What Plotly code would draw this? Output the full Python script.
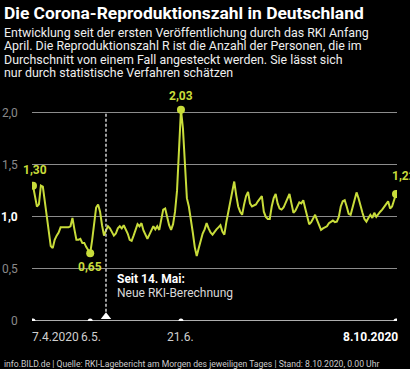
import plotly.graph_objects as go
import pandas as pd

start_date = "2020-04-07"
r_values = [
    1.30, 1.20, 1.10, 1.12, 1.30, 1.29, 1.15, 1.00, 0.85, 0.72,
    0.70, 0.78, 0.82, 0.85, 0.90, 0.90, 0.90, 0.90, 0.90, 0.91,
    0.99, 0.88, 0.78, 0.78, 0.79, 0.75, 0.75, 0.71, 0.68, 0.65,
    0.78, 0.95, 1.09, 1.12, 1.05, 0.92, 0.82, 0.87, 0.91, 0.89,
    0.86, 0.82, 0.84, 0.89, 0.91, 0.89, 0.92, 0.88, 0.84, 0.78,
    0.77, 0.82, 0.88, 0.93, 0.91, 0.94, 0.87, 0.82, 0.79, 0.83,
    0.87, 0.91, 0.88, 0.91, 0.875, 0.97, 1.07, 1.08, 0.99, 0.92,
    0.875, 0.93, 1.05, 1.25, 1.64, 2.03, 1.85, 1.55, 1.18, 1.10,
    0.95, 0.85, 0.71, 0.625, 0.70, 0.78, 0.84, 0.88, 0.94, 0.89,
    0.85, 0.83, 0.86, 0.88, 0.90, 0.92, 0.86, 0.83, 0.95, 1.05,
    1.15, 1.22, 1.34, 1.21, 1.10, 1.05, 1.02, 1.12, 1.20, 1.24,
    1.13, 1.10, 1.11, 1.12, 1.15, 1.18, 1.20, 1.05, 1.00, 0.98,
    0.98, 1.10, 1.18, 1.22, 1.13, 1.08, 1.07, 1.09, 1.13, 1.18,
    1.22, 1.13, 1.04, 1.06, 1.10, 1.14, 1.13, 1.16, 1.08, 1.00,
    0.93, 0.95, 0.98, 1.02, 0.97, 0.92, 0.875, 0.89, 0.90, 0.91,
    0.94, 0.955, 0.965, 0.95, 0.955, 1.00, 1.10, 1.15, 1.16, 1.10,
    1.03, 1.02, 1.10, 1.18, 1.235, 1.18, 1.10, 1.04, 0.98, 0.955,
    0.99, 1.02, 0.99, 1.04, 1.00, 1.03, 1.05, 1.07, 1.10, 1.13,
    1.15, 1.08, 1.10, 1.16, 1.22,
]
dates = pd.date_range(start_date, periods=len(r_values), freq="D")

# highlighted points
hl_dates = ["2020-04-07", "2020-05-06", "2020-06-21", "2020-10-08"]
hl_values = [1.30, 0.65, 2.03, 1.22]
hl_labels = ["1,30", "0,65", "2,03", "1,22"]

# x axis ticks
xtick_dates = ["2020-04-07", "2020-05-06", "2020-06-21", "2020-10-08"]
xtick_labels = ["7.4.2020", "6.5.", "21.6.", "8.10.2020"]

# y axis ticks
ytick_vals = [0, 0.5, 1.0, 1.5, 2.0]
ytick_labels = ["0", "0,5", "1,0", "1,5", "2,0"]

change_date = "2020-05-14"

LINE = "#c8dc3a"
FONT = "Roboto"

fig = go.Figure()

# axis baseline with tick dots
fig.add_trace(go.Scatter(
    x=xtick_dates, y=[0] * len(xtick_dates), mode="lines+markers",
    line=dict(color="#e8e8e8", width=1.5),
    marker=dict(color="#ffffff", size=5), hoverinfo="skip", showlegend=False,
))

fig.add_trace(go.Scatter(
    x=dates, y=r_values, mode="lines",
    line=dict(color=LINE, width=2), showlegend=False,
))
fig.add_trace(go.Scatter(
    x=hl_dates, y=hl_values, mode="markers",
    marker=dict(color=LINE, size=8), showlegend=False,
))
fig.add_trace(go.Scatter(
    x=[change_date], y=[0.04], mode="markers",
    marker=dict(color="#ffffff", size=9, symbol="triangle-up"),
    showlegend=False,
))

fig.add_shape(type="line", xref="x", yref="y", x0=change_date, x1=change_date,
              y0=0.09, y1=2.0, line=dict(color="#d0d0d0", width=1.5, dash="3px,2px"))

ann = []
shifts = [(2, 16, "center"), (0, -14, "center"), (0, 14, "center"), (-6, 18, "left")]
for d, v, t, (xs, ys, xa) in zip(hl_dates, hl_values, hl_labels, shifts):
    ann.append(dict(x=d, y=v, text="<b>" + t + "</b>", showarrow=False, xref="x", yref="y",
                    xshift=xs, yshift=ys, xanchor=xa,
                    font=dict(family=FONT, size=12, color=LINE)))

# y tick labels
for v, t in zip(ytick_vals, ytick_labels):
    bold = (t == "1,0")
    ann.append(dict(x=0, y=v, xref="paper", yref="y", xanchor="right", xshift=-12,
                    text=("<b>" + t + "</b>") if bold else t, showarrow=False,
                    font=dict(family=FONT, size=12, color="#ffffff" if bold else "#8a8a8a")))

# x tick labels
xanchors = ["left", "center", "center", "right"]
xsh = [-3, 1, 0, 4]
for d, t, xa, s in zip(xtick_dates, xtick_labels, xanchors, xsh):
    bold = (t == "8.10.2020")
    ann.append(dict(x=d, y=0, xref="x", yref="y", xanchor=xa, yanchor="middle", yshift=-16,
                    xshift=s, text=("<b>" + t + "</b>") if bold else t, showarrow=False,
                    font=dict(family=FONT, size=12, color="#ffffff" if bold else "#cfcfcf")))

W, H = 410, 369
L, R, T, B = 32, 13, 92, 48
pw, ph = W - L - R, H - T - B

def px(x):
    return (x - L) / pw

def py(y):
    return (H - B - y) / ph

# "Seit 14. Mai" note
ann.append(dict(x=change_date, y=py(288), xref="x", yref="paper", xanchor="left", xshift=9,
                text="<b>Seit 14. Mai:</b>", showarrow=False,
                font=dict(family=FONT, size=12, color="#ffffff")))
ann.append(dict(x=change_date, y=py(302), xref="x", yref="paper", xanchor="left", xshift=9,
                text="Neue RKI-Berechnung", showarrow=False,
                font=dict(family=FONT, size=12, color="#d8d8d8")))

# title and subtitle
ann.append(dict(x=px(2), y=py(13), xref="paper", yref="paper", xanchor="left", yanchor="middle",
                text="<b>Die Corona-Reproduktionszahl in Deutschland</b>", showarrow=False,
                font=dict(family=FONT, size=17.4, color="#ffffff")))
sub_lines = [
    "Entwicklung seit der ersten Veröffentlichung durch das RKI Anfang",
    "April. Die Reproduktionszahl R ist die Anzahl der Personen, die im",
    "Durchschnitt von einem Fall angesteckt werden. Sie lässt sich",
    "nur durch statistische Verfahren schätzen",
]
for i, s in enumerate(sub_lines):
    ann.append(dict(x=px(2), y=py(33 + i * 13), xref="paper", yref="paper", xanchor="left",
                    yanchor="middle", text=s, showarrow=False,
                    font=dict(family=FONT, size=12.4, color="#eeeeee")))

ann.append(dict(x=px(2), y=py(364), xref="paper", yref="paper", xanchor="left", yanchor="middle",
                text="info.BILD.de | Quelle: RKI-Lagebericht am Morgen des jeweiligen Tages | Stand: 8.10.2020, 0.00 Uhr",
                showarrow=False, font=dict(family=FONT, size=8.6, color="#cccccc")))

fig.update_layout(
    width=W, height=H, margin=dict(l=L, r=R, t=T, b=B),
    paper_bgcolor="#000000", plot_bgcolor="#000000",
    annotations=ann, showlegend=False,
    xaxis=dict(range=[pd.Timestamp("2020-04-07") - pd.Timedelta(hours=12),
                      pd.Timestamp("2020-10-08") + pd.Timedelta(hours=12)],
               showgrid=False, zeroline=False, showticklabels=False, showline=False,
               fixedrange=True),
    yaxis=dict(range=[0, 2.2], tickvals=[0.5, 1.0, 1.5, 2.0], showticklabels=False,
               showgrid=True, gridcolor="#8c8c8c", gridwidth=1, zeroline=False,
               showline=False, fixedrange=True),
)

fig.write_html("out.html", config={"displayModeBar": False})

# remove the default page margin so the figure sits at the window's top-left corner
with open("out.html", "r", encoding="utf-8") as f:
    html = f.read()
html = html.replace("<body>", "<body style=\"margin:0;padding:0;background:#000;overflow:hidden\">", 1)
with open("out.html", "w", encoding="utf-8") as f:
    f.write(html)
